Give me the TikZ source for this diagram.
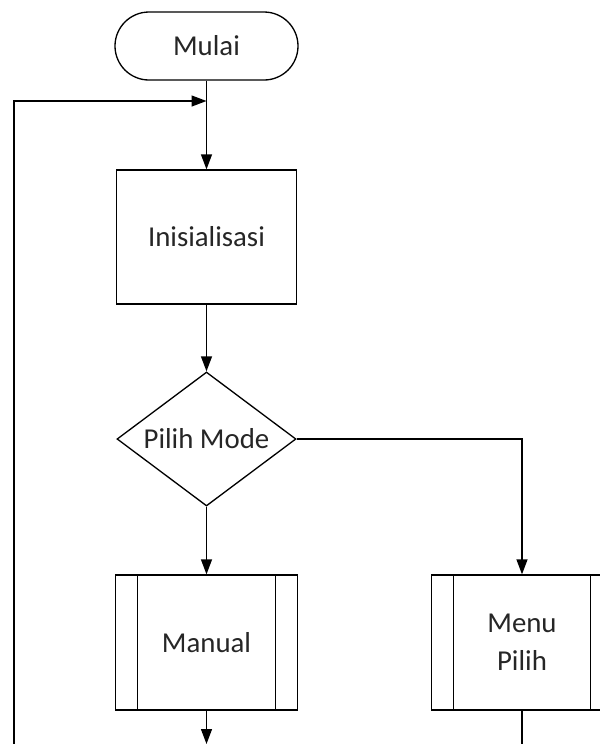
\documentclass[tikz,border=0pt]{standalone}
\usepackage{fontspec}
\setmainfont{Carlito}
\usepackage{tikz}
\usetikzlibrary{shapes.geometric, arrows.meta, positioning, calc}

\begin{document}
\begin{tikzpicture}[
    >={Triangle[length=0.3cm, width=0.22cm]},
    line width=0.75pt,
    every node/.style={font=\fontsize{16.4}{21.6}\selectfont, text=black!85},
    terminal/.style={rectangle, draw, rounded corners=0.68cm, minimum width=3.66cm, minimum height=1.36cm, align=center},
    box/.style={rectangle, draw, minimum width=3.6cm, minimum height=2.68cm, align=center},
    decision/.style={diamond, aspect=1.34, draw, inner sep=0pt, minimum width=3.58cm, minimum height=2.68cm, align=center},
    subproc/.style={rectangle, draw, minimum width=3.63cm, minimum height=2.7cm, align=center,
        path picture={
            \draw ([xshift=0.44cm]path picture bounding box.north west) -- ([xshift=0.44cm]path picture bounding box.south west);
            \draw ([xshift=-0.44cm]path picture bounding box.north east) -- ([xshift=-0.44cm]path picture bounding box.south east);
        }}
]
\clip (0, 0) rectangle (12, -14.88);

% 1. Start
\node[terminal] (mulai) at (4.13, -0.92) {Mulai};

% 2. Init
\node[box] (init) at (4.13, -4.74) {Inisialisasi};

% 3. Mode choice
\node[decision] (mode) at (4.13, -8.78) {Pilih Mode};

% 4. Sub processes
\node[subproc] (manual) at (4.13, -12.85) {Manual};
\node[subproc] (menu) at (10.44, -12.85) {Menu\\Pilih};

% free ends at the bottom edge
\coordinate (join) at (4.13, -2.02);
\coordinate (loop) at (0.28, -14.88);
\coordinate (manual_out) at (4.13, -14.88);
\coordinate (menu_out) at (10.44, -14.88);

\draw[->] (mulai) -- (init);
\draw[->] (init) -- (mode);
\draw[->] (mode) -- (manual);
\draw[->] (mode.east) -| (menu.north);

\draw[->] (manual) -- (manual_out);
\draw (menu) -- (menu_out);
\draw[->] (loop) |- (join);

\end{tikzpicture}
\end{document}
